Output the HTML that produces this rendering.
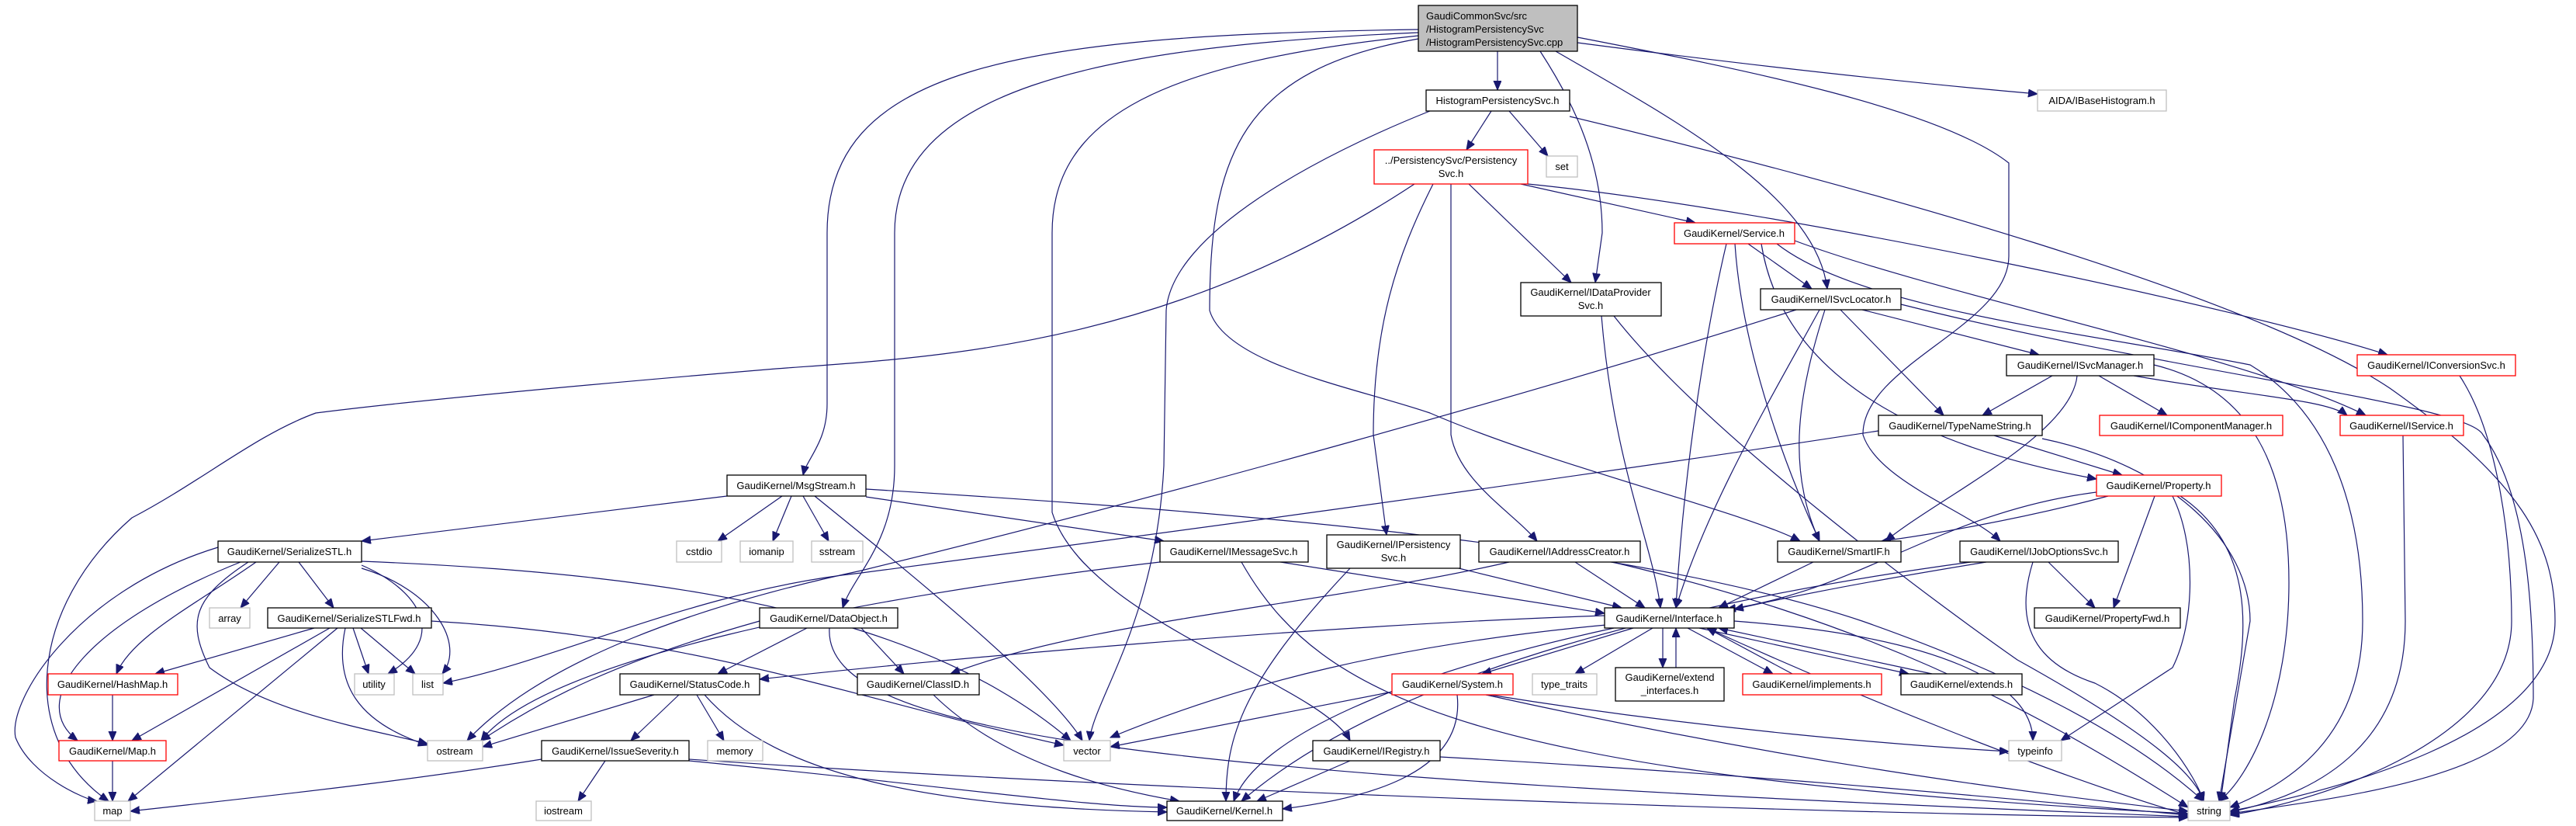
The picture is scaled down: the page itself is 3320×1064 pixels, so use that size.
<!DOCTYPE html>
<html><head><meta charset="utf-8"><style>
html,body{margin:0;padding:0;background:#fff}
svg{display:block}
text{font-family:"Liberation Sans",Arial,sans-serif;font-size:13px;fill:#000}
.e{fill:none;stroke:#191970;stroke-width:1.2}
.b{fill:#fff;stroke:#000;stroke-width:1.3}
.r{fill:#fff;stroke:#ff0000;stroke-width:1.3}
.g{fill:#fff;stroke:#bfbfbf;stroke-width:1.3}
</style></head><body>
<svg width="3320" height="1064" viewBox="0 0 3320 1064" xmlns="http://www.w3.org/2000/svg">
<defs><marker id="a" markerUnits="userSpaceOnUse" markerWidth="14" markerHeight="12" refX="12" refY="5" orient="auto"><path d="M0,0 L12,5 L0,10 z" fill="#191970" stroke="#191970"/></marker></defs>
<g class="e" marker-end="url(#a)">
<path d="M1930,66 L1930,116"/>
<path d="M1828,38 C1300,45 1066,90 1066,300 L1066,520 C1066,570 1040,590 1035,612"/>
<path d="M1828,42 C1400,60 1153,120 1153,300 L1153,600 C1153,700 1100,740 1086,783"/>
<path d="M1828,46 C1500,80 1356,150 1356,300 L1356,660 C1400,800 1700,880 1740,954"/>
<path d="M1828,50 C1600,90 1559,200 1559,400 C1580,470 1750,500 1843,532 C2000,600 2250,660 2320,697"/>
<path d="M1985,66 C2020,120 2065,200 2065,300 L2056,364"/>
<path d="M2005,66 C2150,150 2340,250 2355,372"/>
<path d="M2033,48 C2250,90 2500,140 2589,210 L2589,330 C2589,420 2400,470 2401,560 C2420,620 2540,660 2578,697"/>
<path d="M2033,55 C2300,90 2500,110 2626,121"/>
<path d="M1922,143 L1890,193"/>
<path d="M1945,143 L1995,201"/>
<path d="M1843,143 C1700,200 1510,300 1503,400 L1500,600 C1490,800 1410,900 1404,954"/>
<path d="M2023,150 C2400,240 2900,380 3080,500 C3250,620 3293,700 3293,800 C3293,950 3000,1020 2874,1045"/>
<path d="M1823,237 C1500,450 1200,460 1000,475 C700,500 500,520 407,532 C330,560 260,620 170,667 C40,780 20,950 140,1032"/>
<path d="M1847,237 C1800,330 1770,420 1770,560 L1787,689"/>
<path d="M1870,237 L1870,560 C1880,620 1950,660 1981,697"/>
<path d="M1893,237 L2025,364"/>
<path d="M1960,237 L2185,287"/>
<path d="M1969,237 C2300,270 2900,400 3077,457"/>
<path d="M2253,314 L2335,372"/>
<path d="M2236,314 C2245,450 2300,600 2345,697"/>
<path d="M2225,314 C2200,420 2170,600 2160,783"/>
<path d="M2313,310 C2500,380 2900,460 3049,535"/>
<path d="M2290,314 C2400,400 2700,430 2900,470 C3000,530 3045,650 3045,800 C3045,950 2950,1010 2874,1040"/>
<path d="M2270,314 C2300,500 2500,580 2702,617"/>
<path d="M2400,399 L2628,457"/>
<path d="M2372,399 L2505,535"/>
<path d="M2352,399 C2320,500 2300,600 2345,697"/>
<path d="M2345,399 C2290,500 2200,650 2160,783"/>
<path d="M2315,399 C2000,500 1500,640 1110,735 C900,780 700,850 602,954"/>
<path d="M2450,392 C2800,480 3180,520 3200,560 C3260,640 3265,800 3265,900 C3260,1000 3000,1030 2874,1048"/>
<path d="M2421,555 C2000,620 1400,700 1110,738 C900,760 720,850 571,880"/>
<path d="M2645,484 L2555,535"/>
<path d="M2705,484 L2793,535"/>
<path d="M2750,484 C2900,510 3000,515 3025,535"/>
<path d="M2677,484 C2670,560 2500,640 2430,697"/>
<path d="M2776,470 C2900,500 2950,600 2950,750 C2950,900 2900,1000 2860,1032"/>
<path d="M3170,484 C3220,560 3237,700 3237,800 C3237,950 3000,1030 2874,1050"/>
<path d="M3097,561 L3100,800 C3100,950 3000,1020 2874,1046"/>
<path d="M2570,561 L2735,612"/>
<path d="M2632,565 C2800,600 2900,700 2900,800 L2860,1032"/>
<path d="M2717,639 C2600,670 2480,690 2425,697"/>
<path d="M2702,634 C2500,660 2400,760 2225,785"/>
<path d="M2777,639 L2724,783"/>
<path d="M2800,639 C2830,700 2830,800 2800,860 L2656,954"/>
<path d="M2810,639 C2900,700 2900,800 2880,900 L2862,1032"/>
<path d="M2337,724 L2215,783"/>
<path d="M2560,724 C2400,750 2300,770 2235,785"/>
<path d="M2540,724 C2200,770 1800,860 1600,1032"/>
<path d="M2640,724 L2700,783"/>
<path d="M2620,724 C2590,820 2640,860 2700,880 C2780,920 2830,1000 2840,1032"/>
<path d="M2064,407 C2080,600 2130,700 2140,783"/>
<path d="M2080,407 C2200,560 2500,780 2600,850 C2780,950 2830,1000 2840,1032"/>
<path d="M937,639 L466,697"/>
<path d="M1008,639 L925,697"/>
<path d="M1020,639 L996,697"/>
<path d="M1035,639 L1068,697"/>
<path d="M1050,639 C1150,720 1350,880 1395,954"/>
<path d="M1116,640 L1500,697"/>
<path d="M1116,630 C1600,660 2100,700 2400,800 C2600,870 2750,950 2840,1032"/>
<path d="M281,705 C100,760 10,900 20,950 C40,1000 110,1030 125,1032"/>
<path d="M310,724 C120,800 30,900 100,954"/>
<path d="M330,724 C250,780 170,820 150,868"/>
<path d="M320,724 C250,770 240,800 270,860 C350,920 480,940 551,958"/>
<path d="M360,724 L310,783"/>
<path d="M385,724 L430,783"/>
<path d="M466,728 C540,760 580,820 500,868"/>
<path d="M466,732 C560,760 600,830 570,868"/>
<path d="M466,723 C900,740 1200,800 1380,954"/>
<path d="M405,809 L200,868"/>
<path d="M425,809 L170,954"/>
<path d="M435,809 L165,1032"/>
<path d="M445,809 C430,880 460,930 551,960"/>
<path d="M455,809 L475,868"/>
<path d="M465,809 L535,868"/>
<path d="M556,800 C900,820 1100,900 1371,960"/>
<path d="M145,895 L145,954"/>
<path d="M145,980 L145,1032"/>
<path d="M1650,724 L2068,790"/>
<path d="M1600,724 C1700,900 1900,1000 2820,1048"/>
<path d="M1495,724 C1100,770 700,850 620,954"/>
<path d="M1740,732 C1600,880 1580,950 1580,1032"/>
<path d="M1880,732 L2090,783"/>
<path d="M2030,724 L2120,783"/>
<path d="M1945,724 C1700,780 1400,800 1225,868"/>
<path d="M2078,724 C2400,800 2600,900 2820,1040"/>
<path d="M1040,809 L925,868"/>
<path d="M1110,809 L1165,868"/>
<path d="M979,800 C800,850 700,900 620,954"/>
<path d="M1069,809 C1060,950 1500,1000 2820,1052"/>
<path d="M843,895 L622,962"/>
<path d="M875,895 L813,954"/>
<path d="M898,895 L933,954"/>
<path d="M908,895 C1000,1000 1200,1040 1504,1046"/>
<path d="M698,978 C500,1010 300,1030 168,1045"/>
<path d="M780,980 L745,1032"/>
<path d="M888,980 C1200,1010 1400,1040 1504,1040"/>
<path d="M888,978 C1500,1020 2400,1050 2820,1053"/>
<path d="M1203,895 C1300,990 1450,1020 1520,1032"/>
<path d="M2105,809 L1910,868"/>
<path d="M2130,809 L2030,868"/>
<path d="M2143,809 L2143,860"/>
<path d="M2160,860 L2160,809"/>
<path d="M2175,809 L2285,868"/>
<path d="M2310,868 L2200,809"/>
<path d="M2190,809 L2460,868"/>
<path d="M2490,868 L2215,809"/>
<path d="M2235,800 C2500,820 2620,880 2620,954"/>
<path d="M2070,805 C1800,830 1600,880 1431,950"/>
<path d="M2080,809 C1800,870 1620,950 1590,1032"/>
<path d="M2068,793 C1700,805 1200,850 979,875"/>
<path d="M2200,809 C2400,900 2650,1000 2820,1050"/>
<path d="M1800,890 L1431,962"/>
<path d="M1878,895 C1890,1000 1750,1030 1653,1042"/>
<path d="M1920,895 C2200,940 2450,960 2589,968"/>
<path d="M1915,895 C2300,980 2600,1020 2820,1045"/>
<path d="M1740,980 L1620,1032"/>
<path d="M1856,975 C2300,1000 2600,1030 2820,1050"/>
</g>
<g>
<rect x="1828" y="7" width="205" height="59" fill="#bfbfbf" stroke="#000" stroke-width="1.3"/>
<text x="1838" y="25">GaudiCommonSvc/src</text>
<text x="1838" y="42">/HistogramPersistencySvc</text>
<text x="1838" y="59">/HistogramPersistencySvc.cpp</text>
</g>
<g text-anchor="middle">
<rect class="b" x="1838" y="116" width="185" height="27"/><text x="1930" y="134">HistogramPersistencySvc.h</text>
<rect class="r" x="1771" y="193" width="198" height="44"/><text x="1870" y="211">../PersistencySvc/Persistency</text><text x="1870" y="228">Svc.h</text>
<rect class="g" x="1993" y="201" width="40" height="27"/><text x="2013" y="219">set</text>
<rect class="g" x="2626" y="116" width="166" height="27"/><text x="2709" y="134">AIDA/IBaseHistogram.h</text>
<rect class="r" x="2158" y="287" width="155" height="27"/><text x="2235" y="305">GaudiKernel/Service.h</text>
<rect class="b" x="1960" y="364" width="181" height="43"/><text x="2050" y="381">GaudiKernel/IDataProvider</text><text x="2050" y="398">Svc.h</text>
<rect class="b" x="2269" y="372" width="181" height="27"/><text x="2360" y="390">GaudiKernel/ISvcLocator.h</text>
<rect class="b" x="2586" y="457" width="190" height="27"/><text x="2681" y="475">GaudiKernel/ISvcManager.h</text>
<rect class="r" x="3038" y="457" width="204" height="27"/><text x="3140" y="475">GaudiKernel/IConversionSvc.h</text>
<rect class="b" x="2421" y="535" width="211" height="26"/><text x="2526" y="553">GaudiKernel/TypeNameString.h</text>
<rect class="r" x="2706" y="535" width="236" height="26"/><text x="2824" y="553">GaudiKernel/IComponentManager.h</text>
<rect class="r" x="3016" y="535" width="159" height="26"/><text x="3095" y="553">GaudiKernel/IService.h</text>
<rect class="r" x="2702" y="612" width="161" height="27"/><text x="2782" y="630">GaudiKernel/Property.h</text>
<rect class="b" x="937" y="612" width="179" height="27"/><text x="1026" y="630">GaudiKernel/MsgStream.h</text>
<rect class="b" x="281" y="697" width="185" height="27"/><text x="373" y="715">GaudiKernel/SerializeSTL.h</text>
<rect class="g" x="872" y="697" width="58" height="27"/><text x="901" y="715">cstdio</text>
<rect class="g" x="954" y="697" width="68" height="27"/><text x="988" y="715">iomanip</text>
<rect class="g" x="1046" y="697" width="66" height="27"/><text x="1079" y="715">sstream</text>
<rect class="b" x="1495" y="697" width="191" height="27"/><text x="1590" y="715">GaudiKernel/IMessageSvc.h</text>
<rect class="b" x="1710" y="689" width="172" height="43"/><text x="1796" y="706">GaudiKernel/IPersistency</text><text x="1796" y="723">Svc.h</text>
<rect class="b" x="1906" y="697" width="208" height="27"/><text x="2010" y="715">GaudiKernel/IAddressCreator.h</text>
<rect class="b" x="2291" y="697" width="159" height="27"/><text x="2370" y="715">GaudiKernel/SmartIF.h</text>
<rect class="b" x="2526" y="697" width="204" height="27"/><text x="2628" y="715">GaudiKernel/IJobOptionsSvc.h</text>
<rect class="g" x="270" y="783" width="52" height="26"/><text x="296" y="801">array</text>
<rect class="b" x="345" y="783" width="211" height="26"/><text x="450" y="801">GaudiKernel/SerializeSTLFwd.h</text>
<rect class="b" x="979" y="783" width="178" height="26"/><text x="1068" y="801">GaudiKernel/DataObject.h</text>
<rect class="b" x="2068" y="783" width="167" height="26"/><text x="2151" y="801">GaudiKernel/Interface.h</text>
<rect class="b" x="2622" y="783" width="188" height="26"/><text x="2716" y="801">GaudiKernel/PropertyFwd.h</text>
<rect class="r" x="62" y="868" width="167" height="27"/><text x="145" y="886">GaudiKernel/HashMap.h</text>
<rect class="g" x="457" y="868" width="51" height="27"/><text x="482" y="886">utility</text>
<rect class="g" x="532" y="868" width="39" height="27"/><text x="551" y="886">list</text>
<rect class="b" x="799" y="868" width="180" height="27"/><text x="889" y="886">GaudiKernel/StatusCode.h</text>
<rect class="b" x="1105" y="868" width="157" height="27"/><text x="1183" y="886">GaudiKernel/ClassID.h</text>
<rect class="r" x="1794" y="868" width="156" height="27"/><text x="1872" y="886">GaudiKernel/System.h</text>
<rect class="g" x="1975" y="868" width="83" height="27"/><text x="2016" y="886">type_traits</text>
<rect class="b" x="2082" y="860" width="140" height="43"/><text x="2152" y="877">GaudiKernel/extend</text><text x="2152" y="894">_interfaces.h</text>
<rect class="r" x="2246" y="868" width="179" height="27"/><text x="2335" y="886">GaudiKernel/implements.h</text>
<rect class="b" x="2450" y="868" width="156" height="27"/><text x="2528" y="886">GaudiKernel/extends.h</text>
<rect class="r" x="76" y="954" width="138" height="26"/><text x="145" y="972">GaudiKernel/Map.h</text>
<rect class="g" x="551" y="954" width="71" height="26"/><text x="586" y="972">ostream</text>
<rect class="b" x="698" y="954" width="190" height="26"/><text x="793" y="972">GaudiKernel/IssueSeverity.h</text>
<rect class="g" x="912" y="954" width="71" height="26"/><text x="947" y="972">memory</text>
<rect class="g" x="1371" y="954" width="60" height="26"/><text x="1401" y="972">vector</text>
<rect class="b" x="1692" y="954" width="164" height="26"/><text x="1774" y="972">GaudiKernel/IRegistry.h</text>
<rect class="g" x="2589" y="954" width="68" height="26"/><text x="2623" y="972">typeinfo</text>
<rect class="g" x="122" y="1032" width="46" height="25"/><text x="145" y="1049">map</text>
<rect class="g" x="691" y="1032" width="71" height="25"/><text x="726" y="1049">iostream</text>
<rect class="b" x="1504" y="1032" width="149" height="25"/><text x="1578" y="1049">GaudiKernel/Kernel.h</text>
<rect class="g" x="2820" y="1032" width="54" height="25"/><text x="2847" y="1049">string</text>
</g>
</svg>
</body></html>
